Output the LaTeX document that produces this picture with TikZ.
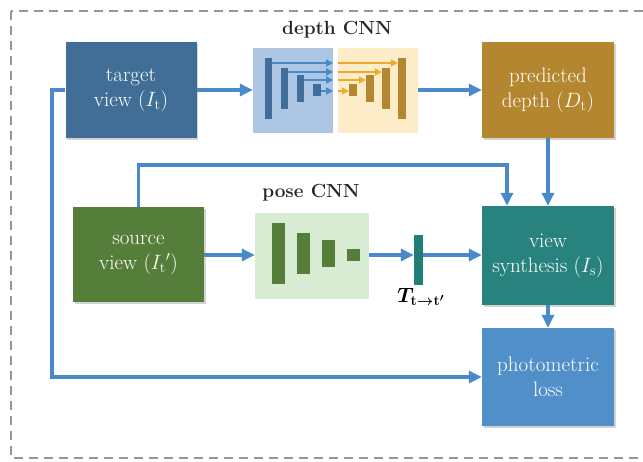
\documentclass[tikz,border=0pt]{standalone}
\usetikzlibrary{arrows.meta,shadows}
\definecolor{tgt}{RGB}{64,110,150}
\definecolor{prd}{RGB}{181,134,48}
\definecolor{src}{RGB}{85,126,58}
\definecolor{syn}{RGB}{40,130,126}
\definecolor{pho}{RGB}{80,143,200}
\definecolor{lblue}{RGB}{172,198,228}
\definecolor{lyel}{RGB}{252,236,200}
\definecolor{lgrn}{RGB}{216,235,211}
\definecolor{bbar}{RGB}{62,110,153}
\definecolor{ybar}{RGB}{181,134,48}
\definecolor{yarr}{RGB}{240,168,48}
\definecolor{tbar}{RGB}{30,128,118}
\definecolor{arr}{RGB}{74,138,203}
\definecolor{frame}{RGB}{150,150,150}
\tikzset{
  mainbox/.style={draw=none, minimum width=131pt, minimum height=96pt, inner sep=0pt,
    align=center, text=white, font=\fontsize{21}{25}\selectfont,
    drop shadow={shadow xshift=1.8pt, shadow yshift=-1.8pt, opacity=0.35, fill=gray}},
  cnnbox/.style={draw=none, inner sep=0pt},
  bar/.style={draw=none, inner sep=0pt},
  flow/.style={draw=arr, line width=3.2pt, -{Triangle[length=13pt,width=12pt]}},
  skipb/.style={draw=arr, line width=1.6pt, -{Triangle[length=7pt,width=7pt]}},
  skipy/.style={draw=yarr, line width=1.6pt, -{Triangle[length=7pt,width=7pt]}},
  cnnlabel/.style={font=\fontsize{19}{22}\selectfont\bfseries, text=black!85}
}
\begin{document}
\begin{tikzpicture}[x=1pt,y=-1pt]
\useasboundingbox (0,0) rectangle (643,461);
\clip (0,0) rectangle (643,461);
\draw[frame, line width=2pt, dash pattern=on 9pt off 6pt] (11,11) rectangle (660,458);

% main boxes
\node[mainbox, fill=tgt] (target) at (131,90) {target\\view ($I_{\mathrm t}$)};
\node[mainbox, fill=prd, minimum width=132pt] (pred) at (548,90) {predicted\\depth ($D_{\mathrm t}$)};
\node[mainbox, fill=src, minimum height=95pt] (source) at (138.5,254.5) {source\\view ($I_{\mathrm t}{}'$)};
\node[mainbox, fill=syn, minimum width=132pt, minimum height=99pt] (synth) at (548,255.5) {view\\synthesis ($I_{\mathrm s}$)};
\node[mainbox, fill=pho, minimum width=132pt, minimum height=98pt] (photo) at (548,377) {photometric\\loss};

% depth CNN
\node[cnnbox, fill=lblue, minimum width=80pt, minimum height=85pt] (enc) at (293,90.5) {};
\node[cnnbox, fill=lyel, minimum width=80pt, minimum height=85pt] (dec) at (378,90.5) {};
\node[cnnlabel] (dlabel) at (337,30) {depth CNN};

\node[bar, fill=bbar, minimum width=7pt, minimum height=61pt] (e1) at (268.5,88.5) {};
\node[bar, fill=bbar, minimum width=7pt, minimum height=41pt] (e2) at (284.5,88.5) {};
\node[bar, fill=bbar, minimum width=7pt, minimum height=27pt] (e3) at (300.5,88.5) {};
\node[bar, fill=bbar, minimum width=8pt, minimum height=12pt] (e4) at (317,90) {};

\node[bar, fill=ybar, minimum width=8pt, minimum height=12pt] (d4) at (353,90) {};
\node[bar, fill=ybar, minimum width=8pt, minimum height=27pt] (d3) at (370,88.5) {};
\node[bar, fill=ybar, minimum width=8pt, minimum height=41pt] (d2) at (386,88.5) {};
\node[bar, fill=ybar, minimum width=8pt, minimum height=61pt] (d1) at (402,88.5) {};

\coordinate (s1) at (0,63);
\coordinate (s2) at (0,72);
\coordinate (s3) at (0,80);
\coordinate (s4) at (0,91);
\draw[skipb] (e1.east |- s1) -- (enc.east |- s1);
\draw[skipb] (e2.east |- s2) -- (enc.east |- s2);
\draw[skipb] (e3.east |- s3) -- (enc.east |- s3);
\draw[skipb] (e4.east |- s4) -- (enc.east |- s4);
\draw[skipy] (dec.west |- s1) -- (d1.west |- s1);
\draw[skipy] (dec.west |- s2) -- (d2.west |- s2);
\draw[skipy] (dec.west |- s3) -- (d3.west |- s3);
\draw[skipy] (dec.west |- s4) -- (d4.west |- s4);

% pose CNN
\node[cnnbox, fill=lgrn, minimum width=114pt, minimum height=86pt] (pose) at (312,256) {};
\node[cnnlabel] (plabel) at (311,193) {pose CNN};
\node[bar, fill=src, minimum width=13pt, minimum height=61pt] (p1) at (278.5,253.5) {};
\node[bar, fill=src, minimum width=13pt, minimum height=41pt] (p2) at (303.5,253.5) {};
\node[bar, fill=src, minimum width=13pt, minimum height=27pt] (p3) at (328.5,253.5) {};
\node[bar, fill=src, minimum width=13pt, minimum height=12pt] (p4) at (353.5,255) {};

\node[bar, fill=tbar, minimum width=9pt, minimum height=50pt] (T) at (418.5,260) {};
\node[font=\fontsize{22}{24}\selectfont\boldmath, anchor=north] (Tlabel) at (421,285) {$T_{\mathrm{t}\to\mathrm{t}'}$};

% connectors
\draw[flow] (target.east) -- (enc.west |- target.east);
\draw[flow] (dec.east |- pred.west) -- (pred.west);
\draw[flow] (source.east |- 0,255) -- (pose.west |- 0,255);
\draw[flow] (pose.east |- 0,255) -- (T.west |- 0,255);
\draw[flow] (T.east |- 0,255) -- (synth.west |- 0,255);
\draw[flow] (pred.south) -- (synth.north);
\draw[flow] (synth.south) -- (photo.north);
\coordinate (c1) at (507,165);
\draw[flow] (source.north) |- (c1) -- (c1 |- synth.north);
\coordinate (c2) at (52,90);
\draw[flow] (target.west) -- (c2) |- (photo.west);
\end{tikzpicture}
\end{document}
